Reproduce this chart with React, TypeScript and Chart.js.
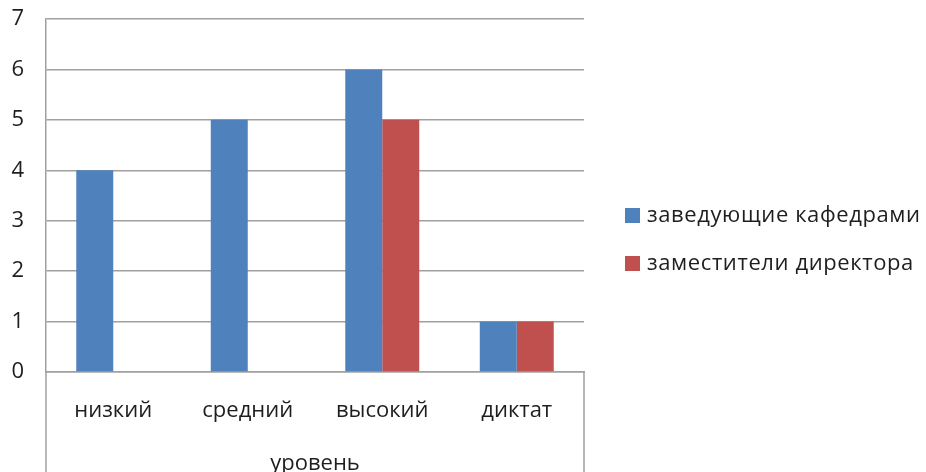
import React, { useEffect, useRef } from "react";
import { Chart, registerables } from "chart.js";

Chart.register(...registerables);

const categories = ["низкий", "средний", "высокий", "диктат"];
const seriesNames = ["заведующие кафедрами", "заместители директора"];
const headsOfDepartments = [4, 5, 6, 1];
const deputyDirectors = [0, 0, 5, 1];
const seriesColors = ["#4F81BD", "#C0504D"];
const yTicks = [0, 1, 2, 3, 4, 5, 6, 7];
const axisTitle = "уровень";

const FONT = "'Open Sans', sans-serif";
const FONT_SIZE = 22;
const TEXT_COLOR = "#1e1e1e";
const LINE_COLOR = "#a0a0a0";

// Side lines of the category label box, running from the axis down to the canvas edge
const categoryBoxPlugin = {
  id: "categoryBox",
  afterDraw(chart: any) {
    const { ctx, chartArea } = chart;
    const h = chart.height;
    ctx.save();
    ctx.strokeStyle = LINE_COLOR;
    ctx.lineWidth = 1.5;
    ctx.beginPath();
    ctx.moveTo(chartArea.left, chartArea.bottom);
    ctx.lineTo(chartArea.left, h);
    ctx.moveTo(chartArea.right, chartArea.bottom);
    ctx.lineTo(chartArea.right, h);
    ctx.stroke();
    ctx.restore();
  },
};

// Legend to the right of the plot: square marker followed by the series name
const sideLegendPlugin = {
  id: "sideLegend",
  afterDraw(chart: any) {
    const { ctx } = chart;
    const datasets = chart.data.datasets;
    const x = 625;
    const size = 15;
    const firstRow = 215.5;
    const rowGap = 48;
    ctx.save();
    ctx.font = `${FONT_SIZE}px ${FONT}`;
    (ctx as any).letterSpacing = "0.6px";
    ctx.textBaseline = "middle";
    ctx.textAlign = "left";
    datasets.forEach((ds: any, i: number) => {
      const cy = firstRow + i * rowGap;
      ctx.fillStyle = ds.backgroundColor;
      ctx.fillRect(x, cy - size / 2, size, size);
      ctx.fillStyle = TEXT_COLOR;
      ctx.fillText(ds.label, x + 22, cy);
    });
    ctx.restore();
  },
};

export default function App() {
  const canvasRef = useRef<HTMLCanvasElement | null>(null);

  useEffect(() => {
    document.body.style.margin = "0";
    document.body.style.overflow = "hidden";
    const canvas = canvasRef.current;
    if (!canvas) return;
    const chart = new Chart(canvas, {
      type: "bar",
      data: {
        labels: categories,
        datasets: [
          {
            label: seriesNames[0],
            data: headsOfDepartments,
            backgroundColor: seriesColors[0],
          },
          {
            label: seriesNames[1],
            data: deputyDirectors,
            backgroundColor: seriesColors[1],
          },
        ],
      },
      options: {
        animation: false,
        responsive: true,
        maintainAspectRatio: false,
        layout: { padding: { top: 19, right: 342, left: 0, bottom: 0 } },
        datasets: {
          bar: { categoryPercentage: 0.55, barPercentage: 1 },
        },
        plugins: {
          legend: { display: false },
          tooltip: { enabled: false },
        },
        scales: {
          x: {
            grid: { display: false, drawTicks: false },
            border: { display: true, color: LINE_COLOR, width: 1.5 },
            ticks: {
              padding: 26,
              color: TEXT_COLOR,
              font: { family: FONT, size: FONT_SIZE },
              maxRotation: 0,
            },
            title: {
              display: true,
              text: axisTitle,
              color: TEXT_COLOR,
              font: { family: FONT, size: FONT_SIZE, lineHeight: 1 },
              padding: { top: 0, bottom: -3 },
            },
            afterFit(scale: any) {
              scale.height = 100;
              scale.paddingLeft = 0;
              scale.paddingRight = 0;
            },
          },
          y: {
            min: 0,
            max: 7,
            afterBuildTicks(scale: any) {
              scale.ticks = yTicks.map((v) => ({ value: v }));
            },
            grid: { color: LINE_COLOR, lineWidth: 1.5, drawTicks: false },
            border: { display: true, color: LINE_COLOR, width: 1.5 },
            ticks: {
              padding: 22,
              color: TEXT_COLOR,
              font: { family: FONT, size: FONT_SIZE },
            },
            afterFit(scale: any) {
              scale.width = 46;
              scale.paddingTop = 0;
              scale.paddingBottom = 0;
            },
          },
        },
      },
      plugins: [categoryBoxPlugin, sideLegendPlugin],
    });
    return () => chart.destroy();
  }, []);

  return (
    <div style={{ position: "fixed", left: 0, top: 0, width: 926, height: 472 }}>
      <canvas ref={canvasRef} />
    </div>
  );
}
